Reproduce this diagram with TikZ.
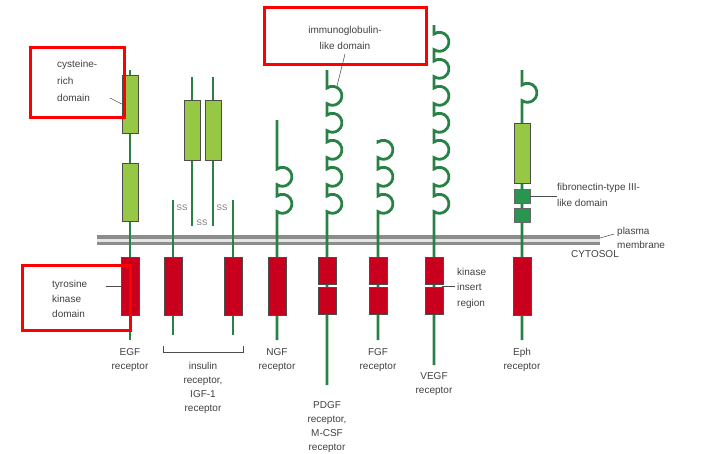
\documentclass[tikz,border=0pt]{standalone}
\usepackage{fontspec}
\setmainfont{Liberation Sans}
\begin{document}
\begin{tikzpicture}[x=1pt,y=-1pt,
  stem/.style={draw=stemg,line width=2.8pt},
  lbox/.style={draw=black!70,fill=lgreen,line width=0.5pt},
  rbox/.style={draw=black!70,fill=kred,line width=0.5pt},
  dbox/.style={draw=black!60,fill=dgreen,line width=0.5pt},
  hl/.style={draw=red,line width=3pt},
  lab/.style={font=\fontsize{10}{14}\selectfont,text=black!75,inner sep=0pt,align=center},
  labl/.style={lab,align=left,anchor=west},
  lead/.style={draw=black!70,line width=0.5pt},
  ss/.style={font=\fontsize{8}{9}\selectfont,text=black!55,inner sep=0pt}]
\definecolor{stemg}{RGB}{40,130,70}
\definecolor{lgreen}{RGB}{150,200,70}
\definecolor{kred}{RGB}{200,0,30}
\definecolor{dgreen}{RGB}{40,150,80}
\useasboundingbox (0,0) rectangle (718,453);
\newcommand{\loopstem}[4]{\draw[stem] (#1,#2) foreach \cy in {#3} { -- (#1,\cy-8) arc[start angle=235,end angle=485,radius=9.5] -- (#1,\cy+8) } -- (#1,#4);}
% membrane
\fill[black!45] (97,235) rectangle (600,245);
\fill[black!10] (97,238.5) rectangle (600,241.5);
\coordinate (memR) at (600,238);
% EGF
\draw[stem] (130,70) -- (130,340);
\node[lbox,minimum width=16pt,minimum height=58pt,inner sep=0pt] (egf1) at (130,104) {};
\node[lbox,minimum width=16pt,minimum height=58pt,inner sep=0pt] (egf2) at (130,192) {};
\node[rbox,minimum width=18pt,minimum height=58pt,inner sep=0pt] (egfk) at (130,286) {};
% insulin
\draw[stem] (173,200) -- (173,335);
\draw[stem] (233,200) -- (233,335);
\draw[stem] (192,77) -- (192,226);
\draw[stem] (213,77) -- (213,226);
\node[lbox,minimum width=16pt,minimum height=60pt,inner sep=0pt] (ins1) at (192,130) {};
\node[lbox,minimum width=16pt,minimum height=60pt,inner sep=0pt] (ins2) at (213,130) {};
\node[rbox,minimum width=18pt,minimum height=58pt,inner sep=0pt] (insk1) at (173,286) {};
\node[rbox,minimum width=18pt,minimum height=58pt,inner sep=0pt] (insk2) at (233,286) {};
\node[ss] (ss1) at (182,208) {SS};
\node[ss] (ss2) at (202,223) {SS};
\node[ss] (ss3) at (222,208) {SS};
% NGF
\loopstem{277}{120}{177,204}{340}
\node[rbox,minimum width=18pt,minimum height=58pt,inner sep=0pt] (ngfk) at (277,286) {};
% PDGF
\loopstem{327}{70}{96,123,150,177,204}{385}
\node[rbox,minimum width=18pt,minimum height=27pt,inner sep=0pt] (pdk1) at (327,271) {};
\node[rbox,minimum width=18pt,minimum height=27pt,inner sep=0pt] (pdk2) at (327,301) {};
% FGF
\loopstem{378}{140}{150,177,204}{340}
\node[rbox,minimum width=18pt,minimum height=27pt,inner sep=0pt] (fgk1) at (378,271) {};
\node[rbox,minimum width=18pt,minimum height=27pt,inner sep=0pt] (fgk2) at (378,301) {};
% VEGF
\loopstem{434}{25}{42,69,96,123,150,177,204}{365}
\node[rbox,minimum width=18pt,minimum height=27pt,inner sep=0pt] (vek1) at (434,271) {};
\node[rbox,minimum width=18pt,minimum height=27pt,inner sep=0pt] (vek2) at (434,301) {};
% Eph
\loopstem{522}{70}{93}{340}
\node[lbox,minimum width=16pt,minimum height=60pt,inner sep=0pt] (eph1) at (522,153) {};
\node[dbox,minimum width=16pt,minimum height=14pt,inner sep=0pt] (fn1) at (522,196) {};
\node[dbox,minimum width=16pt,minimum height=14pt,inner sep=0pt] (fn2) at (522,215) {};
\node[rbox,minimum width=18pt,minimum height=58pt,inner sep=0pt] (ephk) at (522,286) {};
% callouts
\node[labl,font=\fontsize{10}{17}\selectfont] (cys) at (57,81) {cysteine-\\rich\\domain};
\draw[lead] (110,98) -- (egf1.west);
\draw[hl] (30,47) rectangle (124,117);
\node[labl,font=\fontsize{10}{15}\selectfont] (tyr) at (52,299) {tyrosine\\kinase\\domain};
\draw[lead] (106,286) -- (egfk.west);
\draw[hl] (22,265) rectangle (130,330);
\node[lab,font=\fontsize{10}{16}\selectfont] (ig) at (345,38) {immunoglobulin-\\like domain};
\draw[lead] (345,54) -- (337,86);
\draw[hl] (264,7) rectangle (426,64);
\node[labl,font=\fontsize{10}{16}\selectfont] (fnl) at (557,195) {fibronectin-type III-\\like domain};
\draw[lead] (fn1.east) -- (557,196);
\node[labl] (pm) at (617,238) {plasma\\membrane};
\draw[lead] (memR) -- (614,234);
\node[labl] (cyt) at (571,254) {CYTOSOL};
\node[labl,font=\fontsize{10}{15.5}\selectfont] (kir) at (457,288) {kinase\\insert\\region};
\draw[lead] (455,286) -- (442,286);
% receptor labels
\node[lab] (l1) at (130,360) {EGF\\receptor};
\draw[lead] (163,346) -- (163,352) -- (243,352) -- (243,346);
\node[lab] (l2) at (203,388) {insulin\\receptor,\\IGF-1\\receptor};
\node[lab] (l3) at (277,360) {NGF\\receptor};
\node[lab] (l4) at (327,427) {PDGF\\receptor,\\M-CSF\\receptor};
\node[lab] (l5) at (378,360) {FGF\\receptor};
\node[lab] (l6) at (434,384) {VEGF\\receptor};
\node[lab] (l7) at (522,360) {Eph\\receptor};
\end{tikzpicture}
\end{document}
